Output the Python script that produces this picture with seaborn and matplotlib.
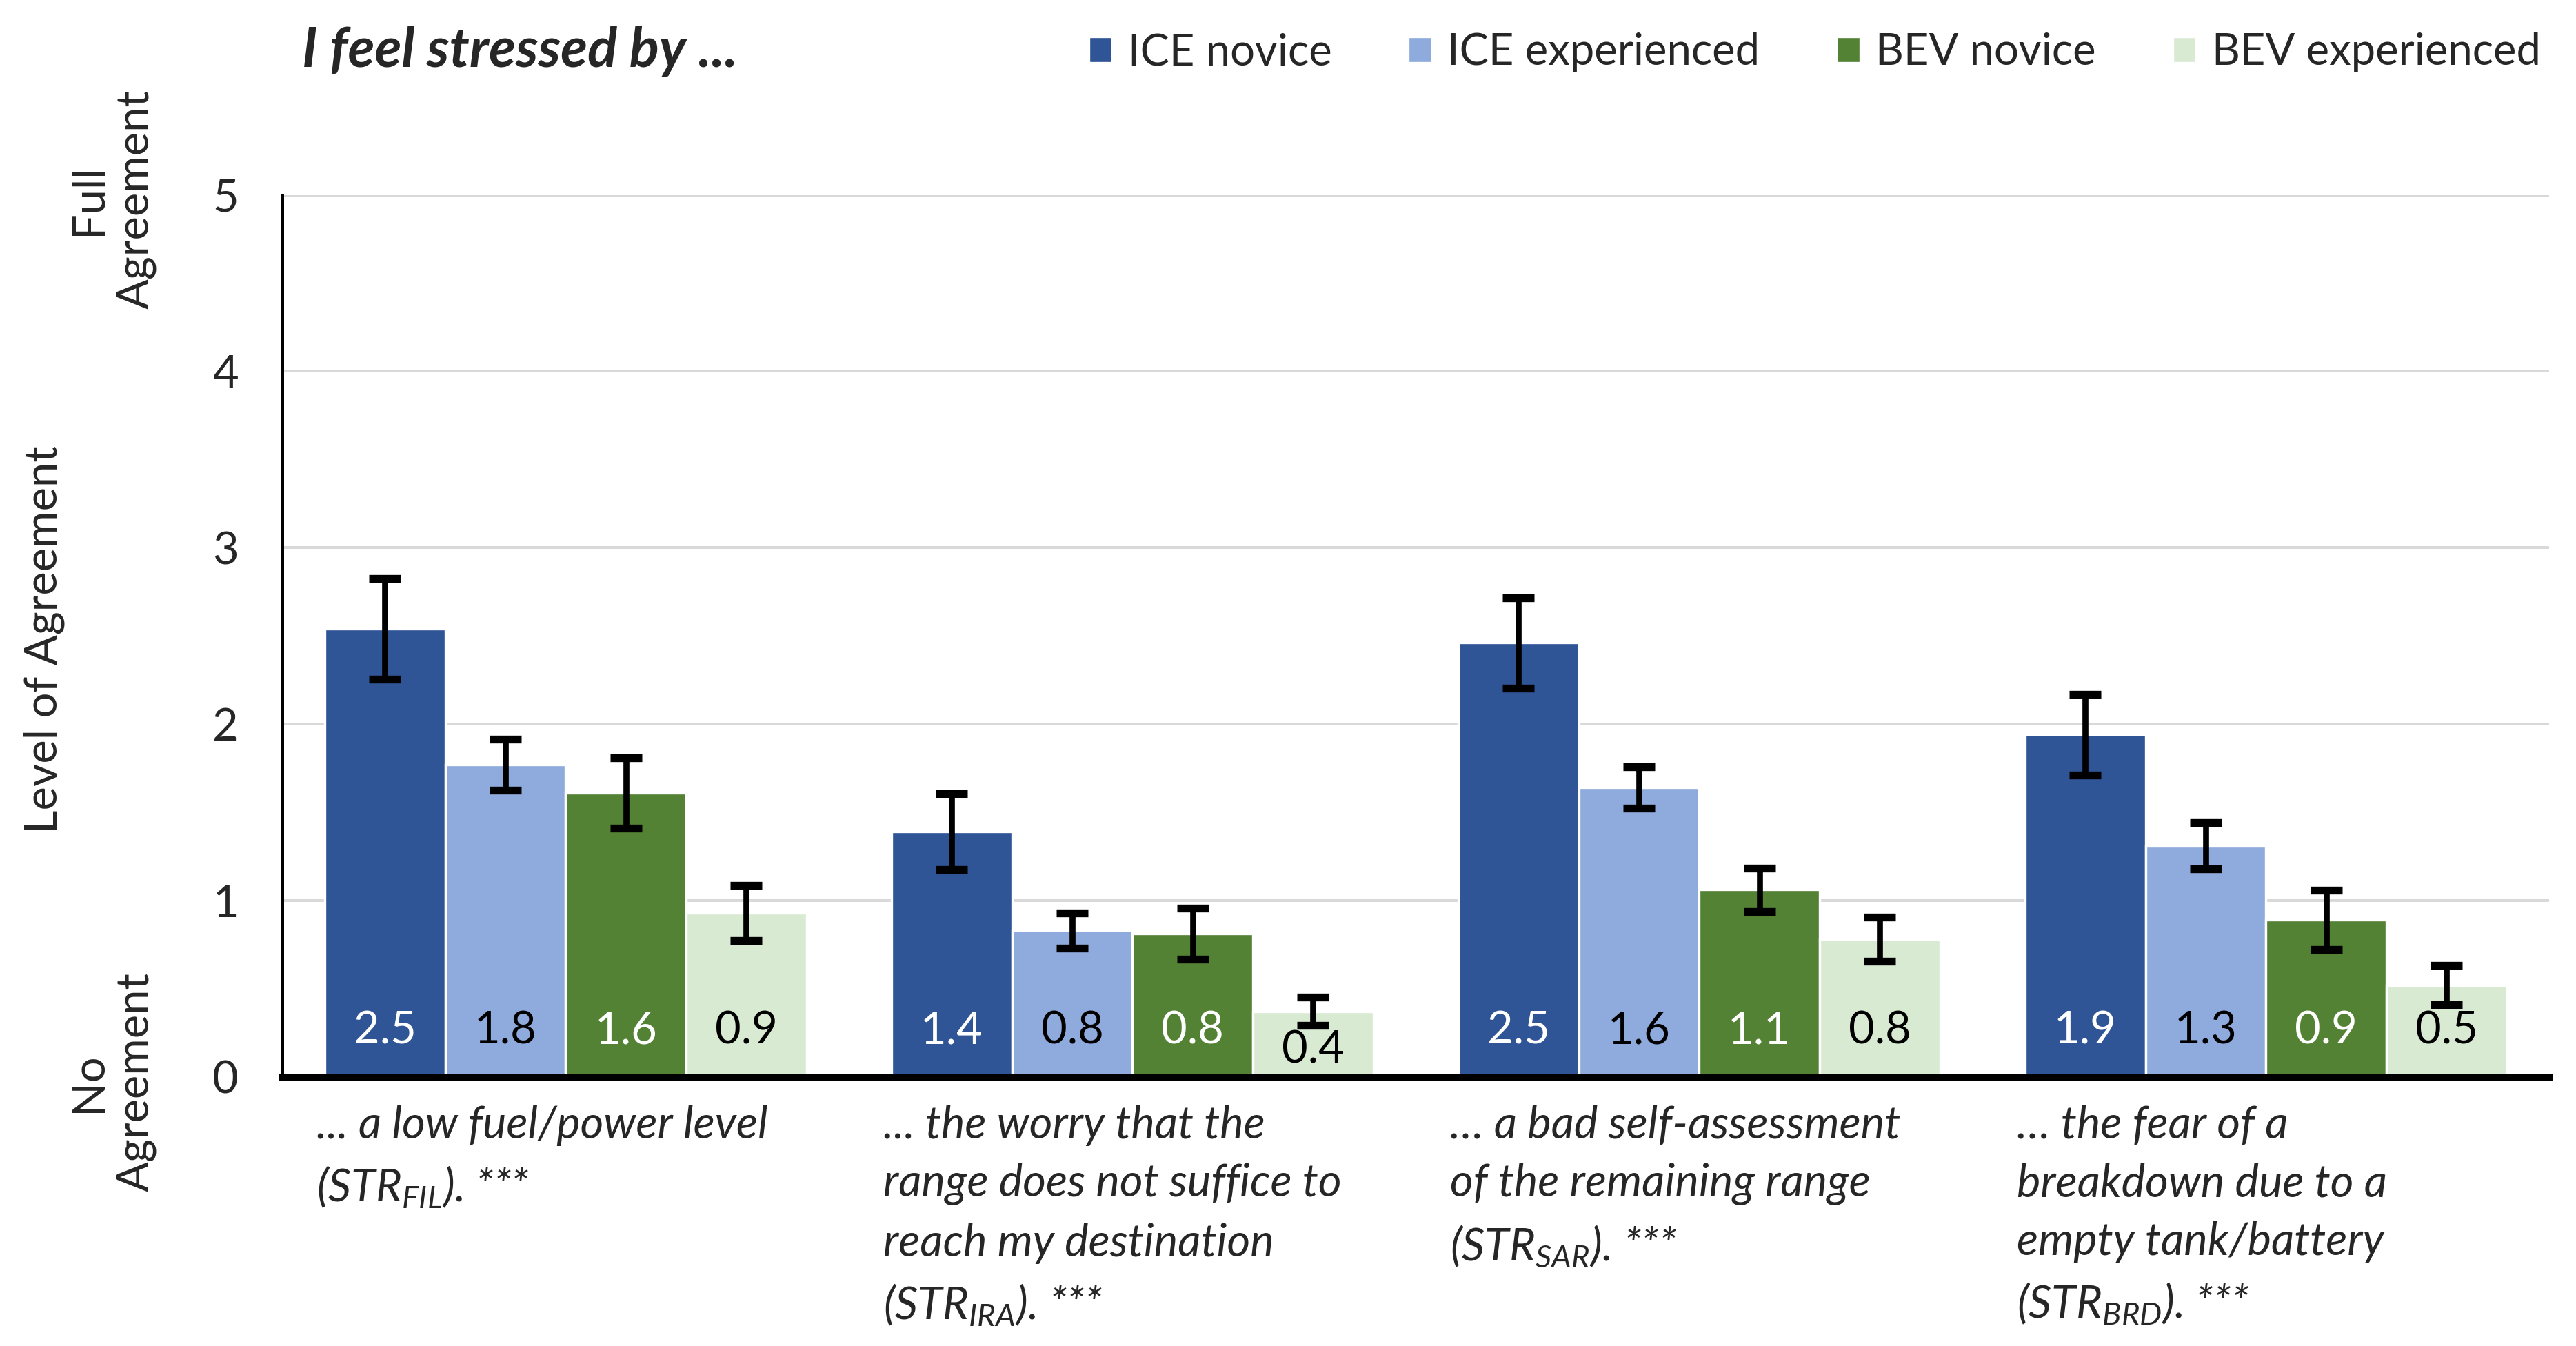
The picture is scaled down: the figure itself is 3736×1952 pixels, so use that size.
import numpy as np
import pandas as pd
import matplotlib
matplotlib.use("Agg")
import matplotlib.pyplot as plt
import seaborn as sns

# values
statements = [
    "... a low fuel/power level\n(STR$_{FIL}$). ***",
    "... the worry that the\nrange does not suffice to\nreach my destination\n(STR$_{IRA}$). ***",
    "\u2026 a bad self-assessment\nof the remaining range\n(STR$_{SAR}$). ***",
    "\u2026 the fear of a\nbreakdown due to a\nempty tank/battery\n(STR$_{BRD}$). ***",
]
groups = ["ICE novice", "ICE experienced", "BEV novice", "BEV experienced"]

ice_novice = [2.54, 1.39, 2.46, 1.94]
ice_experienced = [1.77, 0.83, 1.64, 1.31]
bev_novice = [1.61, 0.81, 1.06, 0.89]
bev_experienced = [0.93, 0.37, 0.78, 0.52]

ice_novice_err = [0.285, 0.215, 0.255, 0.23]
ice_experienced_err = [0.145, 0.10, 0.117, 0.13]
bev_novice_err = [0.20, 0.145, 0.124, 0.168]
bev_experienced_err = [0.157, 0.08, 0.125, 0.11]

colors = ["#2F5597", "#8FAADC", "#548235", "#D9EAD3"]
label_colors = ["white", "black", "white", "black"]

values = [ice_novice, ice_experienced, bev_novice, bev_experienced]
errors = [ice_novice_err, ice_experienced_err, bev_novice_err, bev_experienced_err]

df = pd.DataFrame({
    "statement": np.tile(np.arange(len(statements)), len(groups)),
    "group": np.repeat(groups, len(statements)),
    "value": np.concatenate(values),
})

sns.set_style("white")
plt.rcParams["font.family"] = ["Lato", "DejaVu Sans"]
plt.rcParams["mathtext.fontset"] = "custom"
plt.rcParams["mathtext.rm"] = "Lato"
plt.rcParams["mathtext.it"] = "Lato:italic"
plt.rcParams["mathtext.default"] = "it"

fig = plt.figure(figsize=(3736 / 240, 1952 / 240), dpi=240)
ax = fig.add_axes([0.1096, 0.2000, 0.8800, 0.6552])

sns.barplot(data=df, x="statement", y="value", hue="group", hue_order=groups,
            palette=colors, saturation=1, width=0.85, errorbar=None, ax=ax,
            zorder=2)

FS = 19.5
# error bars and value labels, positioned from the drawn bars
for cont, errs, lc in zip(ax.containers, errors, label_colors):
    xs = [b.get_x() + b.get_width() / 2 for b in cont]
    hs = [b.get_height() for b in cont]
    ax.errorbar(xs, hs, yerr=errs, fmt="none", ecolor="black", elinewidth=2.6,
                capsize=7, capthick=3.4, zorder=4)
    for x, h in zip(xs, hs):
        y = 0.26 if h > 0.5 else 0.15
        ax.text(x, y, f"{h:.1f}", ha="center", va="center", color=lc,
                fontsize=FS, zorder=5)

ax.set_ylim(0, 5)
ax.set_xlim(-0.5, len(statements) - 0.5)
ax.set_yticks(range(6))
ax.yaxis.grid(True, color="#D9D9D9", linewidth=1.2, zorder=0)
ax.set_axisbelow(True)
ax.tick_params(axis="y", length=0, pad=19, labelsize=FS)

# category labels left aligned, boundary tick marks as minor ticks
ax.set_xticks(np.arange(len(statements)) - 0.44)
ax.set_xticklabels(statements, ha="left", fontstyle="italic", fontsize=FS,
                   linespacing=1.5)
ax.tick_params(axis="x", which="major", length=0, pad=12)
ax.set_xticks(np.arange(len(statements) + 1) - 0.5, minor=True)
ax.tick_params(axis="x", which="minor", length=10, width=1.6, direction="out",
               color="black")

for s in ["top", "right"]:
    ax.spines[s].set_visible(False)
ax.spines["left"].set_color("black")
ax.spines["left"].set_linewidth(1.5)
ax.spines["bottom"].set_color("black")
ax.spines["bottom"].set_linewidth(3)
ax.set_xlabel("")
ax.set_ylabel("")

ax.legend(loc="center right", bbox_to_anchor=(0.993, 0.961),
          bbox_transform=fig.transFigure, ncol=4, frameon=False, fontsize=19,
          handlelength=0.55, handleheight=0.55, handletextpad=0.35,
          columnspacing=1.75, borderaxespad=0)

fig.text(0.1173, 0.962, "I feel stressed by ...", fontsize=24, fontweight="bold",
         fontstyle="italic", ha="left", va="center")
fig.text(0.0173, 0.525, "Level of Agreement", rotation=90, fontsize=FS,
         ha="center", va="center")
fig.text(0.0436, 0.852, "Full\nAgreement", rotation=90, fontsize=FS,
         ha="center", va="center", multialignment="center")
fig.text(0.0436, 0.196, "No\nAgreement", rotation=90, fontsize=FS,
         ha="center", va="center", multialignment="center")

fig.savefig("out.png", dpi=240)
